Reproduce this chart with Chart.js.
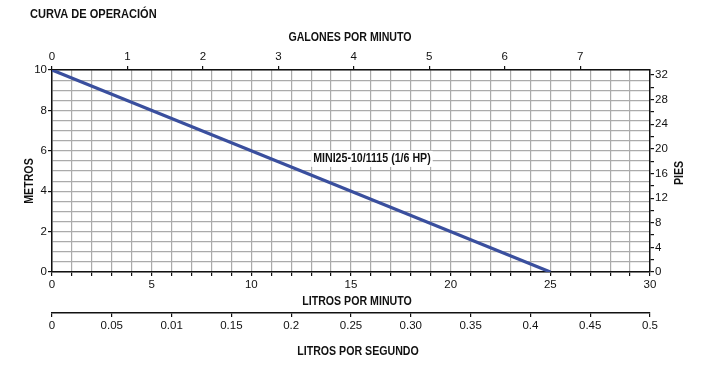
<!DOCTYPE html>
<html lang="es">
<head>
<meta charset="UTF-8">
<script src="https://cdn.jsdelivr.net/npm/chart.js@4.4.1/dist/chart.umd.min.js"></script>
<title>Curva de operación</title>
<style>
  html, body { margin: 0; padding: 0; background: #fff; }
  #wrap { width: 705px; height: 379px; }
</style>
</head>
<body>
<div id="wrap"><canvas id="curva"></canvas></div>
<script>
// datos
const caudalLpm = [0, 25];          // litros por minuto
const alturaM = [10, 0];            // metros
const modelo = 'MINI25-10/1115 (1/6 HP)';
const lpsLabels = ['0', '0.05', '0.01', '0.15', '0.2', '0.25', '0.30', '0.35', '0.4', '0.45', '0.5'];

const FONT = '"Liberation Sans", Arial, sans-serif';
const tickFont = { family: FONT, size: 11.5 };
const gridGray = '#ababab';
const NARROW = 0.85;   // el original usa una letra estrecha

const points = caudalLpm.map((q, i) => ({ x: q, y: alturaM[i] }));

function fix(prop, val) {
  return scale => { scale[prop] = val; };
}

// texto en negrita estrechado horizontalmente
function narrowText(c, txt, x, y, size, rot) {
  c.save();
  c.translate(x, y);
  if (rot) c.rotate(rot);
  c.scale(NARROW, 1);
  c.font = 'bold ' + size + 'px ' + FONT;
  c.fillText(txt, 0, 0);
  c.restore();
}

// titulos y etiqueta del modelo
const textos = {
  id: 'textos',
  afterDraw(chart) {
    const c = chart.ctx;
    c.save();
    c.fillStyle = '#111';
    c.textBaseline = 'middle';
    c.textAlign = 'left';
    narrowText(c, 'CURVA DE OPERACIÓN', 30, 14, 13);

    c.textAlign = 'center';
    narrowText(c, 'GALONES POR MINUTO', 350, 38, 12.5);
    narrowText(c, 'LITROS POR MINUTO', 357, 302, 12.5);
    narrowText(c, 'LITROS POR SEGUNDO', 358, 352, 12.5);
    narrowText(c, 'METROS', 30, 181, 12.5, -Math.PI / 2);
    narrowText(c, 'PIES', 680, 173, 12.5, -Math.PI / 2);

    // etiqueta con fondo blanco
    const px = chart.scales.x.getPixelForValue(16.05);
    const py = chart.scales.y.getPixelForValue(5.6);
    c.font = 'bold 12.5px ' + FONT;
    const w = c.measureText(modelo).width * NARROW;
    c.fillStyle = '#fff';
    c.fillRect(px - w / 2 - 2, py - 8, w + 4, 16);
    c.fillStyle = '#111';
    narrowText(c, modelo, px, py, 12.5);
    c.restore();
  }
};

new Chart('curva', {
  type: 'scatter',
  data: {
    datasets: [{
      data: points,
      showLine: true,
      borderColor: '#3a4f9e',
      borderWidth: 3.2,
      pointRadius: 0,
      fill: false
    }]
  },
  options: {
    responsive: true,
    maintainAspectRatio: false,
    animation: false,
    layout: { padding: 0 },
    plugins: { legend: { display: false }, tooltip: { enabled: false }, title: { display: false } },
    scales: {
      x: {
        type: 'linear', position: 'bottom', min: 0, max: 30, weight: 0,
        afterFit: fix('height', 41),
        ticks: {
          stepSize: 1, padding: 2, color: '#111', font: tickFont, maxRotation: 0, autoSkip: false,
          callback: v => (v % 5 === 0 ? v : '')
        },
        grid: { color: gridGray, lineWidth: 1.2, tickLength: 4, tickColor: '#111' },
        border: { color: '#111', width: 1.5 }
      },
      lps: {
        type: 'linear', position: 'bottom', min: 0, max: 0.5, weight: 1,
        afterFit: fix('height', 66),
        afterBuildTicks: s => { s.ticks = lpsLabels.map((t, i) => ({ value: i * 0.05 })); },
        ticks: {
          padding: 2, color: '#111', font: tickFont, maxRotation: 0, autoSkip: false,
          callback: (v, i) => lpsLabels[i]
        },
        grid: { drawOnChartArea: false, tickLength: 4, tickColor: '#111', lineWidth: 1.2 },
        border: { color: '#111', width: 1.5 }
      },
      gpm: {
        type: 'linear', position: 'top', min: 0, max: 30 / 3.785,
        afterFit: fix('height', 70),
        ticks: { stepSize: 1, includeBounds: false, padding: 2, color: '#111', font: tickFont, maxRotation: 0 },
        grid: { drawOnChartArea: false, tickLength: 4, tickColor: '#111', lineWidth: 1.2 },
        border: { color: '#111', width: 1.5 }
      },
      y: {
        type: 'linear', position: 'left', min: 0, max: 10,
        afterFit: fix('width', 52),
        ticks: {
          stepSize: 0.5, padding: 1, color: '#111', font: tickFont, autoSkip: false,
          callback: v => (v % 2 === 0 ? v : '')
        },
        grid: {
          color: gridGray, lineWidth: 1.2, tickLength: 4,
          tickColor: ctx => (ctx.tick && ctx.tick.value % 2 === 0 ? '#111' : 'rgba(0,0,0,0)')
        },
        border: { color: '#111', width: 1.5 }
      },
      ft: {
        type: 'linear', position: 'right', min: 0, max: 10 * 3.2808,
        afterFit: fix('width', 55),
        ticks: {
          stepSize: 2, includeBounds: false, padding: 1, color: '#111', font: tickFont, autoSkip: false,
          callback: v => (v % 4 === 0 ? v : '')
        },
        grid: { drawOnChartArea: false, tickLength: 4, tickColor: '#111', lineWidth: 1.2 },
        border: { color: '#111', width: 1.5 }
      }
    }
  },
  plugins: [textos]
});
</script>
</body>
</html>
